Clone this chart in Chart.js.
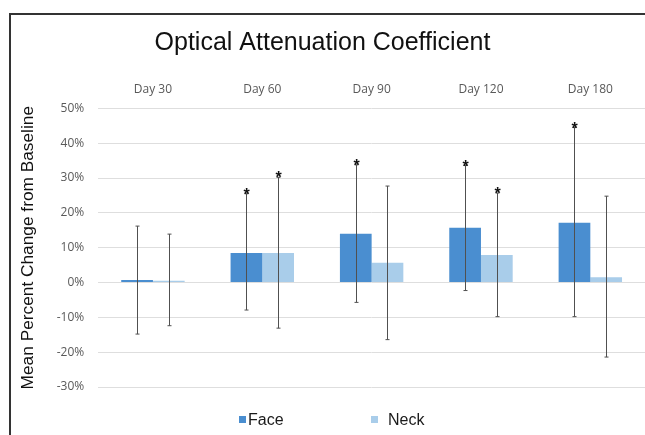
<!DOCTYPE html>
<html>
<head>
<meta charset="utf-8">
<script src="https://cdn.jsdelivr.net/npm/chart.js@4.4.1/dist/chart.umd.min.js"></script>
<style>
  html, body { margin: 0; padding: 0; background: #fff; }
  #wrap { position: relative; width: 645px; height: 435px; overflow: hidden; }
  #frame { position: absolute; left: 9px; top: 13px; right: -5px; bottom: -5px;
           border-left: 2px solid #333; border-top: 2px solid #333; }
  canvas { position: absolute; left: 0; top: 0; }
  .lg { position: absolute; top: 411px; font: 16px "Liberation Sans", Arial, sans-serif; color: #1a1a1a; }
  .lg i { display: inline-block; width: 7px; height: 7px; margin-right: 2px; vertical-align: 2px; }
</style>
</head>
<body>
<div id="wrap">
  <div id="frame"></div>
  <canvas id="chart-1" width="645" height="435"></canvas>
  <div class="lg" style="left:239px"><i style="background:#4a8ed0"></i>Face</div>
  <div class="lg" style="left:371px"><i style="background:#a9cdea;margin-right:10px"></i>Neck</div>
</div>
<script>
const categories = ["Day 30", "Day 60", "Day 90", "Day 120", "Day 180"];
const faceMean = [0.7, 8.5, 14.0, 15.7, 17.2];
const neckMean = [0.5, 8.5, 5.7, 7.9, 1.5];
const faceHigh = [16.2, 25.5, 33.8, 33.6, 44.5];
const faceLow = [-14.8, -7.9, -5.7, -2.3, -9.8];
const neckHigh = [13.9, 30.2, 27.7, 25.7, 24.8];
const neckLow = [-12.4, -13.1, -16.4, -9.8, -21.4];
const faceStar = [false, true, true, true, true];
const neckStar = [false, true, false, true, false];

const errors = [
  { high: faceHigh, low: faceLow, star: faceStar },
  { high: neckHigh, low: neckLow, star: neckStar },
];

// error bars + significance stars
const errorBars = {
  id: "errorBars",
  afterDatasetsDraw(chart) {
    const ctx = chart.ctx;
    const y = chart.scales.y;
    ctx.save();
    errors.forEach((e, i) => {
      chart.getDatasetMeta(i).data.forEach((bar, j) => {
        const x = Math.round(bar.x) + 0.5;
        const top = y.getPixelForValue(e.high[j]);
        const bot = y.getPixelForValue(e.low[j]);
        ctx.strokeStyle = "#505050";
        ctx.lineWidth = 1;
        ctx.beginPath();
        ctx.moveTo(x, top);
        ctx.lineTo(x, bot);
        ctx.moveTo(x - 2, top);
        ctx.lineTo(x + 2, top);
        ctx.moveTo(x - 2, bot);
        ctx.lineTo(x + 2, bot);
        ctx.stroke();
        if (e.star[j]) {
          ctx.fillStyle = "#111";
          ctx.font = "bold 16px 'Liberation Sans', Arial, sans-serif";
          ctx.textAlign = "center";
          ctx.textBaseline = "alphabetic";
          ctx.fillText("*", x, top + 6);
        }
      });
    });
    ctx.restore();
  },
};

new Chart(document.getElementById("chart-1"), {
  type: "bar",
  data: {
    labels: categories,
    datasets: [
      { label: "Face", data: faceMean, backgroundColor: "#4a8ed0" },
      { label: "Neck", data: neckMean, backgroundColor: "#a9cdea" },
    ],
  },
  options: {
    responsive: false,
    animation: false,
    layout: { padding: { left: 0, right: 0, top: 0, bottom: 48 } },
    datasets: { bar: { categoryPercentage: 0.58, barPercentage: 1.0 } },
    plugins: {
      legend: { display: false },
      tooltip: { enabled: false },
      title: {
        display: true,
        text: "Optical Attenuation Coefficient",
        color: "#111",
        font: { family: "'Liberation Sans', Arial, sans-serif", size: 25, weight: "normal" },
        padding: { top: 28, bottom: 12 },
      },
    },
    scales: {
      x: {
        position: "top",
        grid: { display: false, drawTicks: false },
        border: { display: false },
        ticks: {
          color: "#595959",
          padding: 12,
          font: { family: "'Open Sans', sans-serif", size: 12 },
        },
      },
      y: {
        min: -30,
        max: 50,
        grid: { color: "#dedede", drawTicks: false },
        border: { display: false },
        ticks: {
          stepSize: 10,
          color: "#595959",
          padding: 14,
          font: { family: "'Open Sans', sans-serif", size: 12 },
          callback: (v) => v + "%",
        },
        title: {
          display: true,
          text: "Mean Percent Change from Baseline",
          color: "#111",
          font: { family: "'Liberation Sans', Arial, sans-serif", size: 17.3 },
          padding: { top: 18, bottom: 4 },
        },
      },
    },
  },
  plugins: [errorBars],
});
</script>
</body>
</html>
